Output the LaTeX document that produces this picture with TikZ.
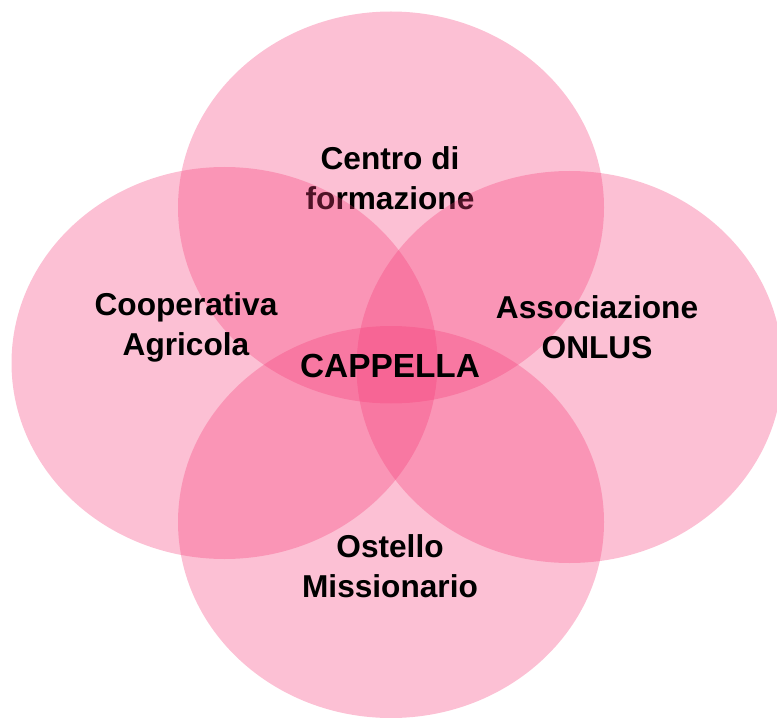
\documentclass[tikz,border=0pt]{standalone}
\usepackage{fontspec}
\setmainfont{Liberation Sans}
\usepackage{tikz}
\usetikzlibrary{shapes.geometric}
\definecolor{petalpink}{RGB}{245,60,120}
\tikzstyle{petal} = [ellipse, fill=petalpink, fill opacity=0.32, minimum width=8.52cm, minimum height=7.84cm, inner sep=0pt]
\tikzstyle{txt} = [align=center, font=\fontsize{18}{22.5}\selectfont\bfseries, text=black]

\begin{document}
\begin{tikzpicture}
	\useasboundingbox (0,0) rectangle (15.54,14.34);
	\node[petal](centro) at (7.82, 10.19){};
	\node[txt](centrotxt) at (7.8, 10.78){Centro di\\formazione};

	\node[petal](coop) at (4.49, 7.08){};
	\node[txt](cooptxt) at (3.72, 7.79){Cooperativa\\Agricola};

	\node[petal](assoc) at (11.39, 7.00){};
	\node[txt](assoctxt) at (11.94, 7.80){Associazione\\ONLUS};

	\node[petal](ostello) at (7.82, 3.90){};
	\node[txt](ostellotxt) at (7.8, 3.02){Ostello\\Missionario};

	\node[txt, font=\fontsize{19}{22.5}\selectfont\bfseries](cappella) at (7.8, 7.02){CAPPELLA};
\end{tikzpicture}
\end{document}
